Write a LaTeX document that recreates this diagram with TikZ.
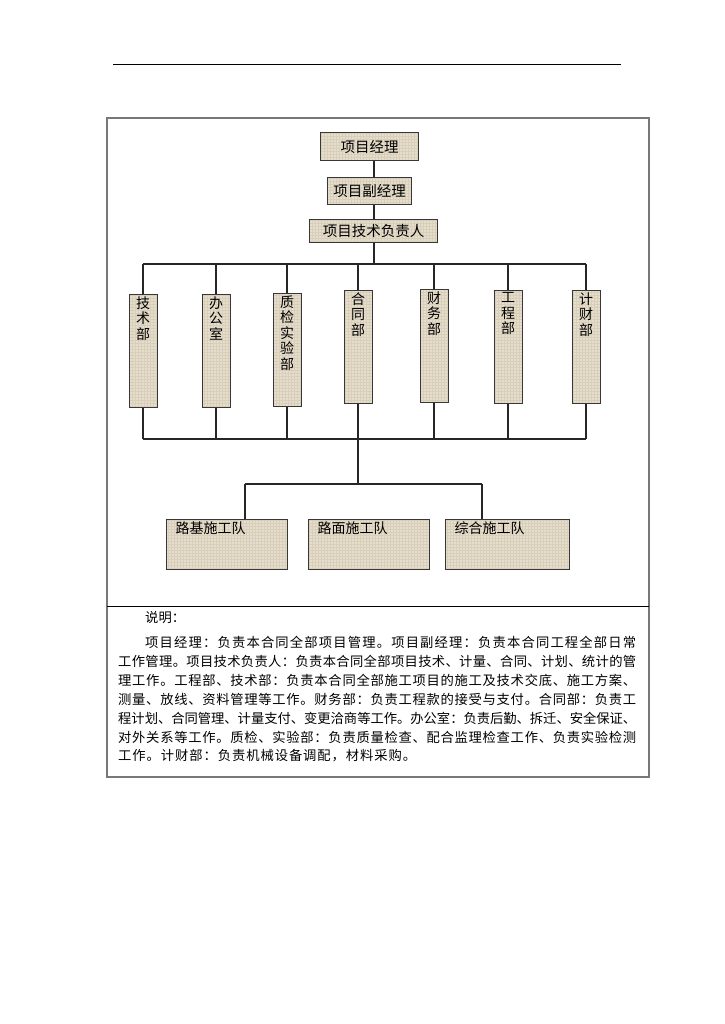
\documentclass[tikz,border=0pt]{standalone}
\usepackage{fontspec}
\setmainfont{Noto Sans CJK SC}
\usetikzlibrary{patterns}
\definecolor{boxfill}{RGB}{230,222,205}
\definecolor{boxtex}{RGB}{216,206,186}
\definecolor{boxline}{RGB}{55,55,55}
\definecolor{framegray}{RGB}{120,120,120}
\makeatletter
\newcommand\jline[2]{\hbox to #1{\@tfor\jc:=#2\do{\jc\hss}\unskip}}
\makeatother
\tikzset{
  orgbox/.style={draw=boxline, line width=1pt,
    preaction={fill=boxfill},
    preaction={pattern=grid, pattern color=boxtex},
    inner sep=0pt, anchor=north west},
  topbox/.style={orgbox, font=\fontsize{14.5}{16}\selectfont},
  conn/.style={draw=black!85, line width=1.1pt},
  txtline/.style={anchor=west, inner sep=0pt, font=\fontsize{13.3}{15}\selectfont}
}
\begin{document}
\begin{tikzpicture}[x=1pt,y=-1pt]
\useasboundingbox (0,0) rectangle (724,1024);
% page rule and frame
\draw[line width=0.8pt] (113,64) -- (621,64);
\draw[draw=framegray, line width=1.4pt] (107,118) rectangle (649,777);
\draw[line width=0.9pt] (107,606) -- (649,606);

% top boxes
\node[topbox, minimum width=98pt, minimum height=28pt] (pm) at (320,132) {项目经理};
\node[topbox, minimum width=84pt, minimum height=27pt] (dpm) at (327,177) {项目副经理};
\node[topbox, minimum width=128pt, minimum height=23pt] (tech) at (309,219) {项目技术负责人};

% coordinates
\coordinate (busT) at (374,264);
\coordinate (busTL) at (143,264);
\coordinate (busTR) at (586,264);
\coordinate (busBL) at (143,439);
\coordinate (busBR) at (586,439);
\coordinate (busBM) at (358,439);
\coordinate (busL) at (245,484);
\coordinate (busR) at (482,484);
\coordinate (busLM) at (358,484);

% department boxes
\newcommand\dept[4]{%
  \node[orgbox, anchor=north, minimum width=28pt, minimum height=113pt] (#1) at (#2,#3)
    {\parbox[c][113pt][t]{28pt}{\centering\fontsize{14}{15.5}\selectfont\vspace*{2pt}#4}};}
\dept{d1}{143}{294}{技\\术\\部}
\dept{d2}{216}{294}{办\\公\\室}
\dept{d3}{287}{293}{质\\检\\实\\验\\部}
\dept{d4}{358}{290}{合\\同\\部}
\dept{d5}{434}{289}{财\\务\\部}
\dept{d6}{508}{290}{工\\程\\部}
\dept{d7}{586}{290}{计\\财\\部}

% team boxes
\node[orgbox, minimum width=121pt, minimum height=50pt] (t1) at (166,519)
  {\parbox[c][50pt][t]{121pt}{\vspace*{2pt}\hspace*{9pt}\fontsize{14}{16}\selectfont 路基施工队}};
\node[orgbox, minimum width=121pt, minimum height=50pt] (t2) at (308,519)
  {\parbox[c][50pt][t]{121pt}{\vspace*{2pt}\hspace*{9pt}\fontsize{14}{16}\selectfont 路面施工队}};
\node[orgbox, minimum width=124pt, minimum height=50pt] (t3) at (445,519)
  {\parbox[c][50pt][t]{124pt}{\vspace*{2pt}\hspace*{9pt}\fontsize{14}{16}\selectfont 综合施工队}};

% connectors
\draw[conn] (pm.south -| busT) -- (dpm.north -| busT);
\draw[conn] (dpm.south -| busT) -- (tech.north -| busT);
\draw[conn] (tech.south -| busT) -- (busT);
\draw[conn] (busTL) -- (busTR);
\foreach \d in {d1,d2,d3,d4,d5,d6,d7}{
  \draw[conn] (\d.north) -- (\d.north |- busT);
  \draw[conn] (\d.south) -- (\d.south |- busBL);
}
\draw[conn] (busBL) -- (busBR);
\draw[conn] (busBM) -- (busLM);
\draw[conn] (busL) -- (busR);
\draw[conn] (busL) -- (t1.north -| busL);
\draw[conn] (busR) -- (t3.north -| busR);

% description
\node[txtline] (sm) at (145,617) {说明：};
\node[txtline] (l1) at (145,642) {\jline{491pt}{项目经理：负责本合同全部项目管理。项目副经理：负责本合同工程全部日常}};
\node[txtline] (l2) at (118,661) {\jline{518pt}{工作管理。项目技术负责人：负责本合同全部项目技术、计量、合同、计划、统计的管}};
\node[txtline] (l3) at (118,680) {\jline{518pt}{理工作。工程部、技术部：负责本合同全部施工项目的施工及技术交底、施工方案、}};
\node[txtline] (l4) at (118,699) {\jline{518pt}{测量、放线、资料管理等工作。财务部：负责工程款的接受与支付。合同部：负责工}};
\node[txtline] (l5) at (118,718) {\jline{518pt}{程计划、合同管理、计量支付、变更洽商等工作。办公室：负责后勤、拆迁、安全保证、}};
\node[txtline] (l6) at (118,737) {\jline{518pt}{对外关系等工作。质检、实验部：负责质量检查、配合监理检查工作、负责实验检测}};
\node[txtline] (l7) at (118,756) {\jline{298pt}{工作。计财部：负责机械设备调配，材料采购。}};
\end{tikzpicture}
\end{document}
